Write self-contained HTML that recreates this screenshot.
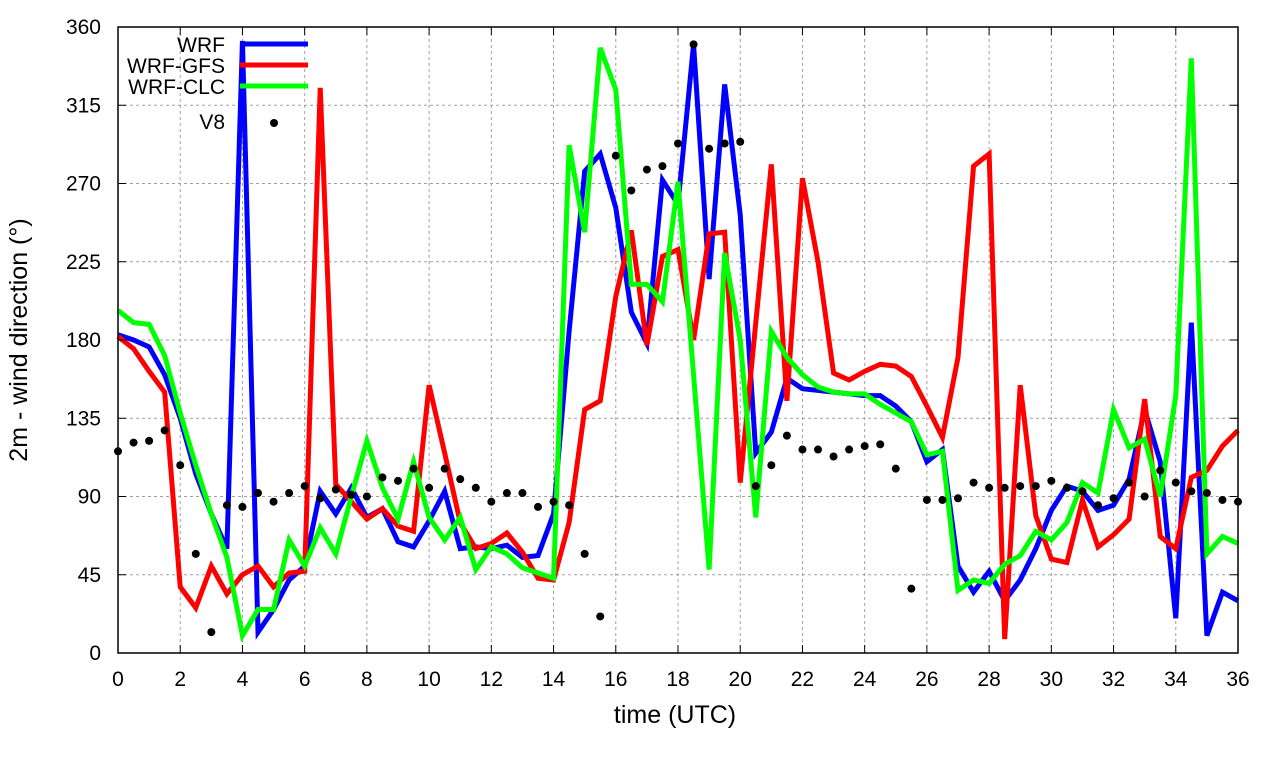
<!DOCTYPE html>
<html><head><meta charset="utf-8"><style>
body{margin:0;background:#fff;}
svg{display:block;font-family:"Liberation Sans",sans-serif;}
</style></head><body>
<svg id="chart" width="1280" height="760">
<g id="grid"></g>
<g id="series"></g>
<rect x="118" y="27" width="1120" height="626" fill="none" stroke="#000" stroke-width="1.5"/>
<g id="ticks"></g>
<text x="675" y="723" font-size="25" text-anchor="middle">time (UTC)</text>
<text transform="translate(27,340) rotate(-90)" font-size="25" text-anchor="middle">2m - wind direction (°)</text>
<g id="legend"></g>
</svg>
<script>
const xTicks=[0,2,4,6,8,10,12,14,16,18,20,22,24,26,28,30,32,34,36];
const yTicks=[0,45,90,135,180,225,270,315,360];
const wrf=[183,180,176,160,135,103,80,60,352,12,25,42,50,93,80,95,78,83,64,61,76,93,60,61,60,62,55,56,80,185,277,287,256,196,178,272,258,350,215,327,252,115,127,158,152,151,150,149,148,148,142,133,110,117,50,35,47,30,42,60,82,96,93,82,85,100,140,110,20,190,10,35,30];
const gfs=[182,175,162,150,38,26,50,34,45,50,38,46,47,325,97,87,77,83,73,70,154,115,75,60,63,69,58,43,42,75,140,145,205,243,177,228,232,180,241,242,98,190,281,145,273,225,161,157,162,166,165,159,142,124,170,280,287,8,154,79,54,52,88,61,68,77,146,67,60,101,105,119,128];
const clc=[197,190,189,171,138,108,80,55,10,25,25,65,50,72,57,90,122,95,77,110,78,65,78,48,61,57,49,46,43,292,242,348,324,212,212,202,271,160,48,230,180,78,185,170,160,153,150,149,149,143,138,133,114,116,36,42,40,51,56,70,65,75,98,92,140,118,123,90,148,342,57,67,63];
const v8=[116,121,122,128,108,57,12,85,84,92,87,92,96,89,94,91,90,101,99,106,95,106,100,95,87,92,92,84,87,85,57,21,286,266,278,280,293,350,290,293,294,96,108,125,117,117,113,117,119,120,106,37,88,88,89,98,95,95,96,96,99,95,93,85,89,98,90,105,98,93,92,88,87];
const NS="http://www.w3.org/2000/svg";
const X=t=>118+t*(1120/36), Y=v=>653-v*(626/360);
function mk(tag,a,parent){const e=document.createElementNS(NS,tag);for(const k in a)e.setAttribute(k,a[k]);parent.appendChild(e);return e;}
const grid=document.getElementById('grid'),ticks=document.getElementById('ticks'),ser=document.getElementById('series'),leg=document.getElementById('legend');
xTicks.forEach(t=>{
 if(t>0&&t<36){const g=mk('line',{x1:X(t),x2:X(t),y1:27,y2:653,stroke:'#a0a0a0','stroke-dasharray':'3,3','stroke-width':1},grid);
 }
 mk('line',{x1:X(t),x2:X(t),y1:653,y2:645,stroke:'#000'},ticks);
 mk('line',{x1:X(t),x2:X(t),y1:27,y2:35,stroke:'#000'},ticks);
 const l=mk('text',{x:X(t),y:686,'font-size':21,'text-anchor':'middle'},ticks);l.textContent=t;
 
});
yTicks.forEach(v=>{
 if(v>0&&v<360){const g=mk('line',{x1:118,x2:1238,y1:Y(v),y2:Y(v),stroke:'#a0a0a0','stroke-dasharray':'3,3','stroke-width':1},grid);
 }
 mk('line',{x1:118,x2:126,y1:Y(v),y2:Y(v),stroke:'#000'},ticks);
 mk('line',{x1:1230,x2:1238,y1:Y(v),y2:Y(v),stroke:'#000'},ticks);
 const l=mk('text',{x:101,y:Y(v)+7,'font-size':21,'text-anchor':'end'},ticks);l.textContent=v;
 
});
function line(d,c,name){const p=mk('polyline',{points:d.map((v,i)=>X(i*0.5)+','+Y(v)).join(' '),fill:'none',stroke:c,'stroke-width':5,'stroke-linejoin':'miter'},ser);
 }
line(wrf,'#0000ff','wrf-line');line(gfs,'#ff0000','wrf-gfs-line');line(clc,'#00ff00','wrf-clc-line');
v8.forEach((v,i)=>{const c=mk('circle',{cx:X(i*0.5),cy:Y(v),r:4,fill:'#000'},ser);
 });
const labs=[['WRF','#0000ff'],['WRF-GFS','#ff0000'],['WRF-CLC','#00ff00']];
labs.forEach((l,i)=>{const y=44+i*21;
 const t=mk('text',{x:225,y:y+8,'font-size':21,'text-anchor':'end'},leg);t.textContent=l[0];
 
 const s=mk('line',{x1:240,x2:308,y1:y,y2:y,stroke:l[1],'stroke-width':5},leg);
 });
const t8=mk('text',{x:225,y:129,'font-size':21,'text-anchor':'end'},leg);t8.textContent='V8';

const d8=mk('circle',{cx:274,cy:123,r:4,fill:'#000'},leg);

</script>
</body></html>
